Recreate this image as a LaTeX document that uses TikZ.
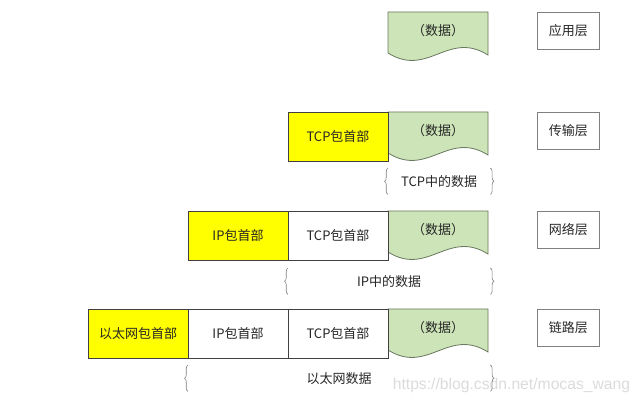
\documentclass[tikz,border=0pt]{standalone}
\usepackage{fontspec}
\setmainfont{Noto Sans CJK SC}
\newfontfamily\wmfont{Liberation Sans}
\usetikzlibrary{positioning,decorations.pathreplacing,backgrounds}
\definecolor{hdryellow}{RGB}{255,255,0}
\definecolor{datagreen}{RGB}{204,228,183}
\definecolor{dataline}{RGB}{105,120,95}
\definecolor{boxline}{RGB}{64,64,64}
\newcommand{\txtsize}{\fontsize{13pt}{15pt}\selectfont}

\begin{document}
\begin{tikzpicture}[
  x=1pt, y=1pt,
  node distance=0pt,
  cell/.style={draw=boxline, line width=0.8pt, outer sep=0pt, inner sep=0pt, minimum width=100pt, minimum height=49pt, text=black!85, font=\txtsize},
  hdr/.style={cell, fill=hdryellow},
  plain/.style={cell, fill=white},
  datab/.style={outer sep=0pt, inner sep=0pt, minimum width=100pt, minimum height=38pt, text=black!85, font=\txtsize},
  layer/.style={draw=gray, line width=0.8pt, inner sep=0pt, minimum width=62pt, minimum height=37pt, text=black!85, font=\txtsize},
  span/.style={inner sep=0pt, minimum height=26pt, text=black!85, font=\txtsize},
  brc/.style={decorate, decoration={brace, amplitude=3.5pt}, draw=gray, line width=0.6pt},
  wave/.style={fill=datagreen, draw=dataline, line width=0.8pt}
]
\useasboundingbox (0,0) rectangle (640,403);
\node[text=black!14, font=\wmfont\fontsize{15.7pt}{18pt}\selectfont] (wm) at (511.5,18) {https://blog.csdn.net/mocas\_wang};

% data column
\node[datab, anchor=north west] (d1) at (388,391) {（数据）};
\node[datab, anchor=north west] (d2) at (388,291) {（数据）};
\node[datab, anchor=north west] (d3) at (388,192) {（数据）};
\node[datab, anchor=north west] (d4) at (388,94) {（数据）};

% headers
\node[hdr, left=0pt of d2.north west, anchor=north east] (tcp2) {TCP包首部};
\node[plain, left=0pt of d3.north west, anchor=north east] (tcp3) {TCP包首部};
\node[hdr, left=of tcp3] (ip3) {IP包首部};
\node[plain, left=0pt of d4.north west, anchor=north east] (tcp4) {TCP包首部};
\node[plain, left=of tcp4] (ip4) {IP包首部};
\node[hdr, left=of ip4] (eth4) {以太网包首部};

% layers
\node[layer, right=49pt of d1.north east, anchor=north west] (app) {应用层};
\node[layer, right=49pt of d2.north east, anchor=north west] (trans) {传输层};
\node[layer, right=49pt of d3.north east, anchor=north west] (net) {网络层};
\node[layer, right=49pt of d4.north east, anchor=north west] (link) {链路层};

% payload spans
\node[span, minimum width=102pt, below=7pt of tcp2.south east, anchor=north west] (tcpdata) {TCP中的数据};
\node[span, minimum width=202pt, below=8pt of ip3.south east, anchor=north west] (ipdata) {IP中的数据};
\node[span, minimum width=302pt, below=7pt of eth4.south east, anchor=north west] (ethdata) {以太网数据};
\foreach \s in {tcpdata,ipdata,ethdata}{
  \draw[brc] (\s.south west) -- (\s.north west);
  \draw[brc] (\s.north east) -- (\s.south east);
}

\begin{scope}[on background layer]
\foreach \d in {d1,d2,d3,d4}
  \draw[wave] (\d.north west) -- (\d.north east) -- ([yshift=-43pt]\d.north east)
    .. controls ([shift={(-40pt,-18pt)}]\d.north east) and ([shift={(-60pt,-66pt)}]\d.north east)
    .. ([yshift=-41pt]\d.north west) -- cycle;
\end{scope}
\end{tikzpicture}
\end{document}
